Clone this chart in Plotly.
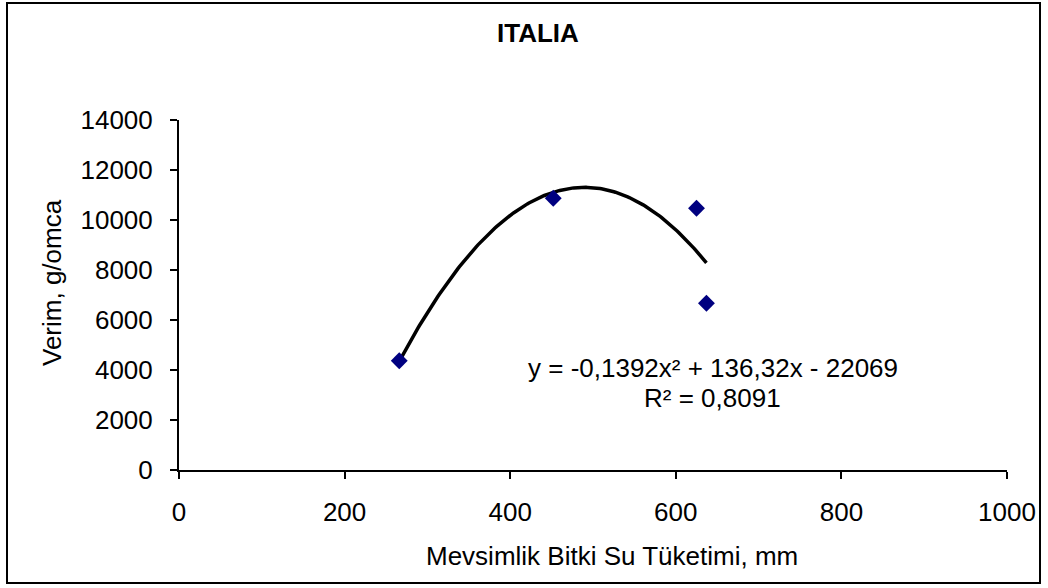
import numpy as np
import plotly.graph_objects as go

# Data
water_use_mm = [266, 452, 625, 637]
yield_g_per_vine = [4372, 10868, 10468, 6668]

# Trendline coefficients shown on the chart (2nd order polynomial)
poly_coeffs = [-0.1392, 136.32, -22069]
r_squared = 0.8091

title_text = "ITALIA"
x_title = "Mevsimlik Bitki Su Tüketimi, mm"
y_title = "Verim, g/omca"
eq_text = "y = -0,1392x² + 136,32x - 22069"
r2_text = "R² = 0,8091"

x_ticks = [0, 200, 400, 600, 800, 1000]
y_ticks = [0, 2000, 4000, 6000, 8000, 10000, 12000, 14000]

FONT = "Liberation Sans, Arial, sans-serif"
FS = 26

trend_x = np.linspace(min(water_use_mm), max(water_use_mm), 200)
trend_y = np.polyval(poly_coeffs, trend_x)

fig = go.Figure()
fig.add_trace(go.Scatter(
    x=trend_x, y=trend_y, mode="lines",
    line=dict(color="black", width=3.5), hoverinfo="skip", showlegend=False,
))
fig.add_trace(go.Scatter(
    x=water_use_mm, y=yield_g_per_vine, mode="markers",
    marker=dict(symbol="diamond", size=13, color="#000080"),
    showlegend=False,
))

W, H = 1048, 588
L, R, T, B = 179, 41, 120, 118
pw, ph = W - L - R, H - T - B

def px2paper_x(px):
    return (px - L) / pw

def px2paper_y(py):
    return (H - B - py) / ph

fig.update_layout(
    width=W, height=H,
    margin=dict(l=L, r=R, t=T, b=B, autoexpand=False),
    paper_bgcolor="white", plot_bgcolor="white",
    font=dict(family=FONT, color="black"),
    xaxis=dict(
        range=[0, 1000], tickvals=x_ticks, ticktext=[str(v) for v in x_ticks],
        showgrid=False, zeroline=False, showline=True, linecolor="black", linewidth=2,
        ticks="outside", ticklen=7, tickwidth=2, tickcolor="black",
        tickfont=dict(size=FS, family=FONT, color="black"),
        ticklabelstandoff=11,
    ),
    yaxis=dict(
        range=[0, 14000], tickvals=y_ticks, ticktext=[str(v) for v in y_ticks],
        showgrid=False, zeroline=False, showline=True, linecolor="black", linewidth=2,
        ticks="outside", ticklen=7, tickwidth=2, tickcolor="black",
        tickfont=dict(size=FS, family=FONT, color="black"),
        ticklabelstandoff=12,
    ),
    shapes=[dict(
        type="rect", xref="paper", yref="paper",
        x0=px2paper_x(7), x1=px2paper_x(1040), y0=px2paper_y(583), y1=px2paper_y(3),
        line=dict(color="black", width=2), fillcolor="rgba(0,0,0,0)", layer="below",
    )],
    annotations=[
        dict(text="<b>%s</b>" % title_text, xref="paper", yref="paper",
             x=px2paper_x(538), y=px2paper_y(33), showarrow=False,
             font=dict(size=FS, family=FONT, color="black"), xanchor="center", yanchor="middle"),
        dict(text=x_title, xref="paper", yref="paper",
             x=px2paper_x(612), y=px2paper_y(556), showarrow=False,
             font=dict(size=FS, family=FONT, color="black"), xanchor="center", yanchor="middle"),
        dict(text=y_title, xref="paper", yref="paper", textangle=-90,
             x=px2paper_x(52), y=px2paper_y(283), showarrow=False,
             font=dict(size=FS, family=FONT, color="black"), xanchor="center", yanchor="middle"),
        dict(text=eq_text, xref="paper", yref="paper",
             x=px2paper_x(713), y=px2paper_y(368), showarrow=False,
             font=dict(size=FS, family=FONT, color="black"), xanchor="center", yanchor="middle"),
        dict(text=r2_text, xref="paper", yref="paper",
             x=px2paper_x(712), y=px2paper_y(398), showarrow=False,
             font=dict(size=FS, family=FONT, color="black"), xanchor="center", yanchor="middle"),
    ],
)

# remove the default 8px page margin so the figure sits at the window origin
fig.write_html(
    "out.html",
    config={"displayModeBar": False},
    post_script="document.body.style.margin='0px';document.body.style.overflow='hidden';",
)
